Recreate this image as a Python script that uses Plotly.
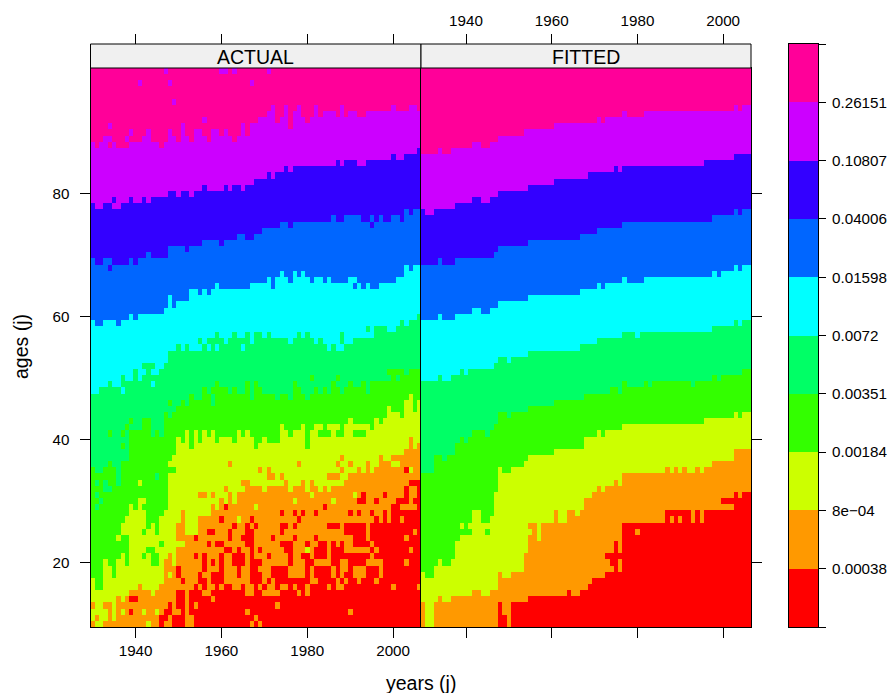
import plotly.graph_objects as go

years = list(range(1930, 2007))
ages = list(range(10, 101))
tick_years = [1940, 1960, 1980, 2000]
tick_ages = [20, 40, 60, 80]
panel_titles = ["ACTUAL", "FITTED"]
level_colors = ["#FF0000", "#FF9900", "#CCFF00", "#33FF00", "#00FF66",
                "#00FFFF", "#0066FF", "#3300FF", "#CC00FF", "#FF0099"]
level_labels = ["0.00038", "8e\u221204", "0.00184", "0.00351", "0.0072",
                "0.01598", "0.04006", "0.10807", "0.26151"]

# Lowest age, per year, at which each colour level starts (ACTUAL panel)
actual_L10 = [89,88,89,90,88,89,88,88,88,89,89,89,90,91,89,89,88,89,91,90,
              89,92,90,89,91,91,90,89,91,91,90,91,90,89,90,92,90,92,92,93,
              93,94,95,92,93,95,91,94,95,93,92,93,95,93,94,94,94,93,95,93,
              94,94,93,93,94,94,94,94,94,94,95,94,94,94,95,95,94]
actual_L9 = [79,78,78,79,79,78,78,79,79,80,79,79,80,79,80,80,80,80,81,81,
             80,81,81,80,81,81,82,81,81,81,81,82,81,82,82,81,82,82,83,83,
             83,84,83,84,84,85,84,85,85,85,85,85,85,85,85,85,85,86,85,86,
             86,86,85,85,86,86,86,86,86,86,87,86,86,87,87,87,88]
actual_L8 = [70,69,69,70,70,69,69,69,69,70,69,70,70,71,70,70,70,70,72,72,
             72,72,71,72,72,72,73,73,73,73,72,73,73,73,74,74,73,73,74,74,
             75,75,75,75,76,76,75,76,76,76,76,76,76,76,76,76,77,76,76,77,
             77,77,77,76,76,77,76,77,76,76,77,77,76,78,77,78,78]
actual_L7 = [60,59,59,60,60,60,59,60,60,61,60,61,61,61,61,61,61,62,64,62,
             63,63,63,65,65,64,65,64,65,66,65,65,65,65,65,65,65,66,66,66,
             66,67,65,67,68,67,66,68,67,68,67,66,67,67,66,67,66,66,66,66,
             67,67,66,65,66,65,65,66,66,66,66,67,67,69,68,69,69]
actual_L6 = [48,48,49,49,50,49,49,51,50,50,52,50,53,53,53,51,52,53,55,55,
             56,55,56,55,55,57,56,57,57,58,57,56,57,58,57,57,58,56,58,58,
             57,58,58,57,57,57,56,57,58,57,58,57,56,57,56,55,56,55,58,56,
             56,57,57,57,57,57,59,59,59,58,58,59,60,59,60,60,61]
actual_L5 = [36,35,35,36,37,36,33,37,37,42,42,42,44,44,41,42,41,45,44,45,
             46,47,46,48,47,47,49,48,49,50,49,49,48,49,48,48,50,47,50,49,
             48,48,48,47,48,48,47,50,49,48,47,48,49,48,49,48,50,49,48,49,
             50,49,49,50,48,50,50,50,50,52,52,52,52,51,52,52,52]
actual_L4 = [18,16,16,21,20,18,21,22,20,29,29,30,29,26,27,25,28,29,37,38,
             41,40,42,39,42,40,42,41,42,40,41,41,41,40,42,41,42,41,39,40,
             41,40,40,40,43,42,41,42,42,43,39,42,43,43,41,43,43,43,41,43,
             44,43,43,43,43,42,44,43,44,46,45,45,44,47,48,45,47]
actual_L3 = [11,10,10,11,14,11,15,14,15,16,16,17,16,16,15,16,17,21,22,20,
             27,29,25,25,25,28,28,28,30,29,31,29,32,30,32,32,34,33,33,33,
             32,33,33,33,33,34,32,33,33,34,32,34,33,32,33,32,33,33,33,34,
             35,35,36,35,37,35,36,38,37,37,38,38,38,39,41,39,40]

# Isolated cells of the ACTUAL panel: (year, age, level)
actual_cells = [
    (1947,100,9),(1960,100,9),(1961,100,9),(1963,100,9),(1971,100,9),
    (1941,98,9),(1948,98,9),(1967,98,9),(1949,95,9),(1956,92,9),(1934,91,9),
    (1934,89,9),(1938,89,9),(1939,90,9),(1935,79,8),(1995,75,8),(1934,68,8),
    (1991,65,7),(1934,51,6),(1937,48,6),(1942,51,6),(1944,51,6),(1944,49,6),
    (1955,55,6),(1957,55,6),(1959,55,6),(1965,55,6),(1972,57,6),(1988,55,6),
    (1994,58,5),(1934,41,4),(1937,41,4),(1937,39,4),(1938,42,4),(1939,43,4),
    (1948,46,4),(1981,50,4),(1987,50,4),(1958,47,5),(1958,46,5),(1999,50,5),
    (2001,50,5),(1931,33,5),(1933,33,5),(1933,32,5),(1934,32,5),(1931,31,5),
    (1932,30,5),(1931,29,5),(1945,34,5),(1948,35,4),(1949,35,4),(1942,21,4),
    (1944,21,4),(1945,21,4),(1944,20,4),(1945,20,4),(1938,20,4),(1946,23,4),
    (1942,25,4),(1943,22,4),(1944,22,4),(1983,41,4),(1985,41,4),(1987,41,4),
    (1991,41,4),(1992,41,4),(1993,41,4),(1941,33,3),(1941,30,3),(1942,30,3),
    (1939,29,3),(1938,27,3),(1938,26,3),(1938,25,3),(1937,26,3),(1937,25,3),
    (1936,24,3),(1930,13,2),(1931,11,2),(1933,13,2),(1988,37,2),(1987,36,2),
    (1990,36,2),(1962,36,2),(1978,36,2),(1969,35,2),(1971,35,2),(1971,34,2),
    (1972,34,2),(1974,34,2),(1985,34,2),(1986,34,2),(1987,34,2),(1988,35,2),
    (1965,33,2),(1966,33,2),(1961,32,2),(1955,31,2),(1956,31,2),(1958,31,2),
    (1980,22,3),(1968,29,3),(1964,27,3),(1950,23,3),(1951,23,3),(1948,18,3),
    (1937,12,3),(1942,12,3),(1945,12,3),(1943,10,3),(1991,31,3),(1981,31,3),
    (1977,30,3),(1986,30,3),(2000,36,3),(2001,36,3),(2004,35,3),
]

# Runs of red cells in the ACTUAL panel: age -> (first year, last year)
actual_red_runs = {
    35: [(2003,2003)],
    33: [(2004,2006)],
    32: [(2003,2003),(2006,2006)],
    31: [(1993,1993),(1998,1998),(2003,2003),(2006,2006)],
    30: [(1992,1993),(1996,1996),(2001,2003),(2005,2006)],
    29: [(1961,1961),(1984,1984),(2000,2001),(2006,2006)],
    28: [(1974,1974),(1977,1977),(1979,1979),(1982,1982),(1990,1990),(1992,1992),(1995,1995),(1998,1998),(2000,2006)],
    27: [(1960,1960),(1967,1967),(1978,1978),(1996,1996),(1998,1998),(2000,2001),(2003,2006)],
    26: [(1963,1963),(1966,1966),(1968,1968),(1974,1975),(1977,1977),(1985,1987),(1989,1993),(1995,2006)],
    25: [(1957,1958),(1962,1962),(1966,1967),(1974,1974),(1989,1993),(1995,2004),(2006,2006)],
    24: [(1954,1954),(1962,1962),(1965,1967),(1972,1972),(1977,1977),(1982,1982),(1991,1993),(1995,2002),(2004,2006)],
    23: [(1957,1957),(1959,1960),(1966,1967),(1974,1976),(1980,1980),(1983,1984),(1986,1986),(1988,1988),(1991,1994),(1996,2006)],
    22: [(1961,1962),(1964,1964),(1967,1967),(1969,1969),(1975,1976),(1982,1984),(1986,1988),(1995,1995),(1997,2003),(2005,2006)],
    21: [(1954,1954),(1956,1956),(1960,1960),(1963,1965),(1967,1967),(1971,1971),(1976,1976),(1979,1980),(1982,1984),(1986,1994),(1996,2006)],
    20: [(1956,1956),(1958,1958),(1960,1960),(1963,1965),(1967,1969),(1976,1976),(1980,1981),(1986,1987),(1990,1993),(1998,2002),(2004,2006)],
    19: [(1950,1950),(1956,1956),(1960,1960),(1964,1964),(1967,1968),(1972,1975),(1980,1980),(1982,1985),(1987,1987),(1990,1990),(1994,1996),(1998,2006)],
    18: [(1950,1950),(1955,1955),(1958,1960),(1964,1964),(1967,1969),(1972,1975),(1980,1980),(1982,1985),(1987,1987),(1989,1990),(1994,1996),(1998,2006)],
    17: [(1951,1951),(1955,1956),(1958,1960),(1967,1969),(1971,1971),(1973,1980),(1983,1986),(1988,1988),(1990,1991),(1993,1995),(1997,2006)],
    16: [(1954,1954),(1956,1956),(1959,1959),(1961,1962),(1965,1965),(1968,1968),(1970,1970),(1973,1973),(1976,1976),(1978,1979),(1981,1984),(1986,1986),(1989,1999),(2001,2005)],
    15: [(1950,1951),(1953,1955),(1958,1965),(1968,1969),(1974,1977),(1979,1979),(1981,2006)],
    14: [(1939,1940),(1950,1951),(1953,1957),(1959,2006)],
    13: [(1948,1948),(1950,1951),(1953,1953),(1955,1972),(1974,2006)],
    12: [(1939,1939),(1947,1948),(1951,1951),(1953,1965),(1967,1989),(1991,2006)],
    11: [(1946,1947),(1949,1951),(1954,1967),(1969,2006)],
    10: [(1946,1946),(1949,1951),(1954,1966),(1968,1968),(1970,2006)],
}

# Lowest age, per year, at which each colour level starts (FITTED panel)
fitted_L10 = [87,87,87,87,88,87,87,88,88,88,88,88,89,89,88,88,89,89,90,90,
              90,90,90,90,91,91,91,91,91,91,91,92,92,92,92,92,92,92,92,92,
              92,93,92,93,93,93,93,94,93,93,93,93,94,94,94,94,94,94,94,94,
              94,94,94,94,94,94,94,94,94,94,94,94,94,95,94,95,95]
fitted_L9 = [78,77,77,78,78,78,78,78,79,79,79,79,80,80,79,79,80,80,81,81,
             81,81,81,81,81,82,82,82,82,82,82,83,83,83,83,83,83,83,83,84,
             84,84,84,84,84,85,84,85,85,85,85,85,85,85,85,85,85,85,85,85,
             85,85,85,85,85,85,86,86,86,86,86,86,86,87,87,87,87]
fitted_L8 = [69,69,69,69,70,69,69,69,70,70,70,70,70,70,70,70,70,71,72,72,
             72,72,72,72,72,73,73,73,73,73,73,73,73,73,73,73,73,74,74,74,
             74,75,75,75,75,75,75,76,76,76,76,76,76,76,76,76,76,76,76,76,
             76,76,76,76,76,76,76,76,77,77,77,77,77,78,77,78,78]
fitted_L7 = [60,60,60,60,61,60,60,60,61,61,61,61,62,62,61,61,62,62,63,63,
             63,63,63,63,63,64,64,64,64,64,64,64,64,64,64,64,64,65,65,65,
             65,66,65,66,66,66,66,67,66,66,66,66,67,67,67,67,67,67,67,67,
             67,67,67,67,67,67,67,67,68,67,68,68,68,69,68,69,69]
fitted_L6 = [50,50,50,50,51,50,50,51,51,52,51,52,52,52,52,52,52,53,54,54,
             53,54,54,54,54,55,55,55,55,55,55,55,55,55,55,55,55,56,56,56,
             56,57,57,57,57,57,57,58,58,58,57,58,58,58,58,58,58,58,58,58,
             58,58,58,58,58,58,58,58,59,59,59,59,59,60,59,60,60]
fitted_L5 = [35,35,35,38,38,37,38,38,40,41,40,41,42,42,42,41,42,43,45,45,
             44,45,45,45,45,46,46,46,46,46,46,47,47,47,47,47,47,47,48,48,
             48,48,48,48,49,49,48,50,49,49,49,49,50,49,50,50,50,50,50,50,
             50,50,50,49,50,50,50,50,51,50,51,51,51,51,51,52,52]
fitted_L4 = [19,18,18,20,21,20,20,21,24,25,25,25,29,29,27,27,28,32,36,35,
             35,36,36,36,37,38,38,38,38,38,38,39,39,39,39,39,39,39,41,41,
             41,42,41,42,42,42,42,43,43,43,43,43,43,43,43,43,43,43,43,43,
             43,43,43,43,43,43,44,44,44,44,44,44,44,45,44,45,45]
fitted_L3 = [14,10,10,14,15,14,14,15,15,15,15,15,16,16,15,15,16,16,19,18,
             18,19,19,19,22,27,27,24,27,27,27,29,27,27,29,29,28,29,31,31,
             32,33,32,33,33,34,33,35,35,35,35,35,35,35,35,35,35,36,35,36,
             35,36,35,35,36,35,36,36,37,37,37,37,37,39,39,39,39]
fitted_L2 = [10,10,10,10,10,10,10,10,10,10,10,10,10,10,10,10,10,10,14,12,
             10,14,14,14,14,15,15,15,15,15,15,15,15,15,16,15,15,16,16,17,
             18,18,18,19,19,24,19,27,27,27,27,27,27,27,27,27,27,29,29,29,
             29,29,29,27,29,27,29,29,29,29,29,29,29,32,31,32,32]
fitted_cells = [
    (1939,26,3),(1941,26,3),(1945,25,4),(1955,25,3),
    (1973,21,1),(1974,21,1),(1974,20,1),(1976,21,1),
    (2000,30,1),(2001,30,1),(2002,30,1),
    (1980,25,2),(1988,27,2),(1990,27,2),
]

actual_bounds = [actual_L3, actual_L4, actual_L5, actual_L6, actual_L7,
                 actual_L8, actual_L9, actual_L10]
fitted_bounds = [fitted_L2, fitted_L3, fitted_L4, fitted_L5, fitted_L6,
                 fitted_L7, fitted_L8, fitted_L9, fitted_L10]


def build(bounds, base, cells, runs=None):
    z = []
    for age in ages:
        row = []
        for i in range(len(years)):
            level = base
            for b in bounds:
                if age >= b[i]:
                    level += 1
            row.append(level)
        z.append(row)
    for year, age, level in cells:
        z[ages.index(age)][years.index(year)] = level
    for age, spans in (runs or {}).items():
        for first, last in spans:
            for year in range(first, last + 1):
                z[ages.index(age)][years.index(year)] = 1
    return z


z_actual = build(actual_bounds, 2, actual_cells, actual_red_runs)
z_fitted = build(fitted_bounds, 1, fitted_cells)

W, H = 890, 693
PX = lambda v: v / W
PY = lambda v: 1 - v / H
scale = []
n = len(level_colors)
for i, c in enumerate(level_colors):
    scale += [[i / n, c], [(i + 1) / n, c]]

FONT = "Liberation Sans"
common = dict(colorscale=scale, zmin=0.5, zmax=10.5, showscale=False, hoverinfo="skip")
fig = go.Figure()
fig.add_trace(go.Heatmap(x=years, y=ages, z=z_actual, xaxis="x", yaxis="y", **common))
fig.add_trace(go.Heatmap(x=years, y=ages, z=z_fitted, xaxis="x2", yaxis="y2", **common))
fig.add_trace(go.Heatmap(x=[0], y=list(range(1, 11)), z=[[i] for i in range(1, 11)],
                         xaxis="x3", yaxis="y3", **common))
fig.add_trace(go.Scatter(x=[1940], y=[50], mode="none", xaxis="x4", yaxis="y", hoverinfo="skip", showlegend=False))
fig.add_trace(go.Scatter(x=[1940], y=[50], mode="none", xaxis="x5", yaxis="y2", hoverinfo="skip", showlegend=False))

tickfont = dict(family=FONT, size=15.2, color="#000000")
xr = [1929.5, 2006.5]
yr = [9.5, 100.5]
line = dict(showline=True, linecolor="#000000", linewidth=1, mirror=True, showgrid=False, zeroline=False)
tick = dict(ticks="outside", ticklen=10, tickcolor="#000000", tickwidth=1, tickfont=tickfont)

fig.update_layout(
    width=W, height=H, autosize=False, margin=dict(l=0, r=0, t=0, b=0),
    paper_bgcolor="#FFFFFF", plot_bgcolor="#FFFFFF", showlegend=False,
    xaxis=dict(domain=[PX(90.5), PX(421)], range=xr, anchor="y", side="bottom",
               tickvals=tick_years, **line, **tick),
    yaxis=dict(domain=[PY(627), PY(68)], range=yr, anchor="x", side="left",
               tickvals=tick_ages, ticklabelstandoff=7, **line, **tick),
    xaxis2=dict(domain=[PX(421), PX(751)], range=xr, anchor="y2", side="bottom",
                tickvals=tick_years, showticklabels=False, **line, **tick),
    yaxis2=dict(domain=[PY(627), PY(68)], range=yr, anchor="x2", side="right",
                tickvals=tick_ages, showticklabels=False, **line, **tick),
    xaxis3=dict(domain=[PX(789), PX(818)], anchor="y3", showticklabels=False, ticks="", **line),
    yaxis3=dict(domain=[PY(627), PY(44)], range=[0.5, 10.5], anchor="x3", side="right",
                tickvals=[i + 0.5 for i in range(0, 11)],
                ticktext=[""] + level_labels + [""], ticklabelstandoff=3,
                ticks="outside", ticklen=7, tickcolor="#000000", tickwidth=1, tickfont=tickfont,
                showline=True, linecolor="#000000", linewidth=1, mirror=True,
                showgrid=False, zeroline=False),
    xaxis4=dict(domain=[PX(90.5), PX(421)], range=xr, anchor="free", overlaying="x",
                position=PY(44), side="top", tickvals=tick_years, showticklabels=False,
                showline=False, showgrid=False, zeroline=False, **tick),
    xaxis5=dict(domain=[PX(421), PX(751)], range=xr, anchor="free", overlaying="x2",
                position=PY(44), side="top", tickvals=tick_years, ticklabelstandoff=2,
                showline=False, showgrid=False, zeroline=False, **tick),
)

for x0, x1, title in zip([90.5, 421], [421, 751], panel_titles):
    fig.add_shape(type="rect", xref="paper", yref="paper", x0=PX(x0), x1=PX(x1), y0=PY(68), y1=PY(44),
                  fillcolor="#F0F0F0", line=dict(color="#000000", width=1), layer="above")
    fig.add_annotation(xref="paper", yref="paper", x=PX((x0 + x1) / 2), y=PY(57), text=title,
                       showarrow=False, xanchor="center", yanchor="middle",
                       font=dict(family=FONT, size=19.5, color="#000000"))
fig.add_annotation(xref="paper", yref="paper", x=PX(421), y=PY(683), text="years (j)", showarrow=False,
                   xanchor="center", yanchor="middle", font=dict(family=FONT, size=19.5, color="#000000"))
fig.add_annotation(xref="paper", yref="paper", x=PX(21), y=PY(347), text="ages (j)", showarrow=False,
                   textangle=-90, xanchor="center", yanchor="middle",
                   font=dict(family=FONT, size=19.5, color="#000000"))

fig.write_html("out.html", config={"displayModeBar": False},
               post_script="document.body.style.margin='0';")
